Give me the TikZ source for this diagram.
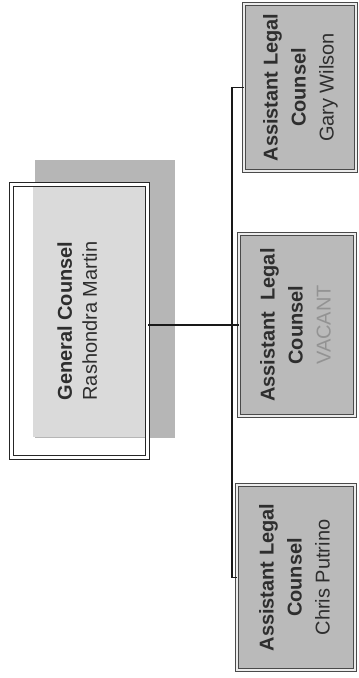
\documentclass[tikz,border=0pt]{standalone}
\usepackage{fontspec}
\setmainfont{Liberation Sans}
\definecolor{boxfill}{HTML}{BABABA}
\definecolor{shadowfill}{HTML}{B6B6B6}
\definecolor{lightfill}{HTML}{DADADA}
\definecolor{edge}{HTML}{4A4A4A}
\definecolor{ink}{HTML}{2E2E2E}
\begin{document}
\begin{tikzpicture}[x=1pt,y=-1pt,
  boxnode/.style={draw=edge, line width=1pt, double=white!85!gray, double distance=2pt,
    fill=boxfill, inner sep=0pt, text=ink, font=\fontsize{20}{28}\selectfont},
  gcnode/.style={draw=black!85, line width=1.1pt, double=white, double distance=3pt,
    inner sep=0pt, text=ink, font=\fontsize{20}{25}\selectfont},
  link/.style={draw=black!90, line width=1.2pt}]
\useasboundingbox (0,0) rectangle (359,678);
% general counsel shadow and fill
\fill[shadowfill] (35,160) rectangle (175,438);
\fill[lightfill] (33,185) rectangle (147,437);
\node[gcnode, minimum width=136pt, minimum height=273pt] (gc) at (79.5,321)
  {\rotatebox{90}{\begin{tabular}{@{}c@{}}\textbf{General Counsel}\\Rashondra Martin\end{tabular}}};
% assistant boxes
\node[boxnode, minimum width=112pt, minimum height=167pt] (b1) at (300,87.5)
  {\rotatebox{90}{\begin{tabular}{@{}c@{}}\textbf{Assistant Legal}\\\textbf{Counsel}\\Gary Wilson\end{tabular}}};
\node[boxnode, minimum width=116pt, minimum height=182pt] (b2) at (297,325)
  {\rotatebox{90}{\begin{tabular}{@{}c@{}}\textbf{Assistant\ \ Legal}\\\textbf{Counsel}\\\textcolor{gray!85}{VACANT}\end{tabular}}};
\node[boxnode, minimum width=118pt, minimum height=185pt] (b3) at (296,577.5)
  {\rotatebox{90}{\begin{tabular}{@{}c@{}}\textbf{Assistant Legal}\\\textbf{Counsel}\\Chris Putrino\end{tabular}}};
% connectors
\coordinate (bus) at (232,325);
\draw[link] (b2.west -| gc.east) -- (b2.west);
\draw[link] (b1.west) -- (b1.west -| bus) -- (b3.west -| bus) -- (b3.west);
\end{tikzpicture}
\end{document}
